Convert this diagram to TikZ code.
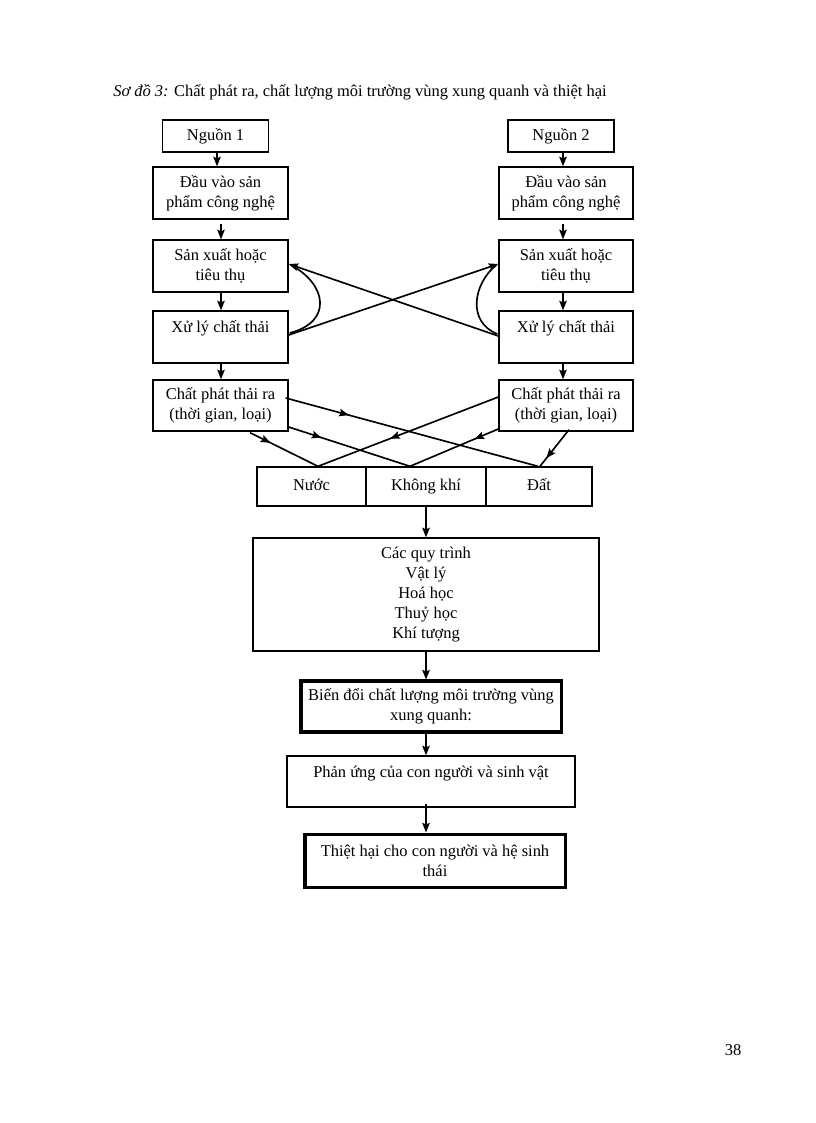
\documentclass[tikz,border=0pt]{standalone}
\usepackage{fontspec}
\setmainfont{Liberation Serif}
\usetikzlibrary{arrows.meta,calc,decorations.markings}
\begin{document}
\begin{tikzpicture}[x=0.729pt,y=-0.729pt,
  font=\fontsize{12}{14.6}\selectfont,
  box/.style={draw,line width=1pt,align=center,inner sep=0pt},
  thickbox/.style={box,line width=2.2pt},
  medium/.style={box,text height=8.5pt,text depth=2.5pt},
  sz/.style 2 args={minimum width=#1*0.729pt,minimum height=#2*0.729pt},
  arr/.style={line width=1.2pt,-{Stealth[length=7pt,width=5.5pt,inset=1.2pt]}},
  midarr/.style={line width=1.2pt,postaction={decorate},
    decoration={markings,mark=at position #1 with {\arrow{Stealth[length=7pt,width=5.5pt,inset=1.2pt]}}}},
  curv/.style={line width=1.2pt}]
\useasboundingbox (0,0) rectangle (816,1123);
\node[anchor=base west,inner sep=0pt] (cap) at (113,97) {\textit{Sơ đồ 3:} Chất phát ra, chất lượng môi trường vùng xung quanh và thiệt hại};
% left column
\node[box,sz={106}{32}] (n1) at (215.5,136) {Nguồn 1};
\node[box,sz={135}{52}] (d1) at (220.5,193) {Đầu vào sản\\phẩm công nghệ};
\node[box,sz={135}{52}] (s1) at (220.5,266) {Sản xuất hoặc\\tiêu thụ};
\node[box,sz={135}{52}] (x1) at (220.5,337) {Xử lý chất thải\\\mbox{}};
\node[box,sz={135}{51}] (c1) at (220.5,405.5) {Chất phát thải ra\\(thời gian, loại)};
% right column
\node[box,sz={106}{32}] (n2) at (561,136) {Nguồn 2};
\node[box,sz={134}{52}] (d2) at (566,193) {Đầu vào sản\\phẩm công nghệ};
\node[box,sz={134}{52}] (s2) at (566,266) {Sản xuất hoặc\\tiêu thụ};
\node[box,sz={134}{52}] (x2) at (566,337) {Xử lý chất thải\\\mbox{}};
\node[box,sz={134}{51}] (c2) at (566,405.5) {Chất phát thải ra\\(thời gian, loại)};
% media
\node[medium,sz={109}{39}] (w) at (311.5,486.5) {Nước};
\node[medium,sz={120}{39}] (a) at (426,486.5) {Không khí};
\node[medium,sz={106}{39}] (e) at (539,486.5) {Đất};
% lower chain
\node[box,sz={346}{113}] (q) at (426,594.5) {Các quy trình\\Vật lý\\Hoá học\\Thuỷ học\\Khí tượng};
\node[thickbox,sz={260}{51}] (b) at (431,706.5) {Biến đổi chất lượng môi trường vùng\\xung quanh:};
\node[box,sz={288}{51}] (p) at (431,781.5) {Phản ứng của con người và sinh vật\\\mbox{}};
\node[thickbox,sz={260}{53}] (t) at (435,860.5) {Thiệt hại cho con người và hệ sinh\\thái};
\node (pg) at (733,1050) {38};
% vertical arrows
\draw[arr] ($(n1.south)+(1.5,0)$) -- ($(n1.south |- d1.north)+(1.5,0)$);
\draw[arr] ($(d1.south)+(0.5,4)$) -- ($(d1.south |- s1.north)+(0.5,0)$);
\draw[arr] ($(s1.south)+(0.5,0)$) -- ($(s1.south |- x1.north)+(0.5,0)$);
\draw[arr] ($(x1.south)+(0.5,0)$) -- ($(x1.south |- c1.north)+(0.5,0)$);
\draw[arr] ($(n2.south)+(2,0)$) -- ($(n2.south |- d2.north)+(2,0)$);
\draw[arr] ($(d2.south)+(-3,4)$) -- ($(d2.south |- s2.north)+(-3,0)$);
\draw[arr] ($(s2.south)+(-3,0)$) -- ($(s2.south |- x2.north)+(-3,0)$);
\draw[arr] ($(x2.south)+(-3,0)$) -- ($(x2.south |- c2.north)+(-3,0)$);
% crossing arrows and loops
\draw[arr] ($(x1.east)+(0,-2)$) -- ($(s2.west)+(0,-2)$);
\draw[arr] ($(x2.west)+(0,-1)$) -- ($(s1.east)+(0,-2)$);
\draw[curv] ($(x1.east)+(1,-4)$) .. controls (333,322) and (327,284) .. ($(s1.east)+(2,-1)$);
\draw[curv] ($(x2.west)+(-1,-3)$) .. controls (467,322) and (473,284) .. ($(s2.west)+(-2,-1)$);
% emissions to media
\draw[midarr=0.25] ($(c1.east)+(-3,-7.5)$) -- ($(e.north)+(-1,0)$);
\draw[midarr=0.27] ($(c1.east)+(0,21.5)$) -- ($(a.north)+(-16,0)$);
\draw[midarr=0.3] ($(c1.south)+(29.5,1)$) -- ($(w.north)+(6.5,0)$);
\draw[midarr=0.6] ($(c2.west)+(0,-8.5)$) -- ($(w.north)+(6.5,0)$);
\draw[midarr=0.27] ($(c2.west)+(0,23.5)$) -- ($(a.north)+(-16,0)$);
\draw[midarr=0.78] ($(c2.south)+(3,-2)$) -- ($(e.north)+(1,0)$);
% lower chain arrows
\draw[arr] (a.south) -- (q.north);
\draw[arr] (q.south) -- (q.south |- b.north);
\draw[arr] (q.south |- b.south) -- (q.south |- p.north);
\draw[arr] ($(q.south |- p.south)+(0,-4)$) -- (q.south |- t.north);
\end{tikzpicture}
\end{document}
